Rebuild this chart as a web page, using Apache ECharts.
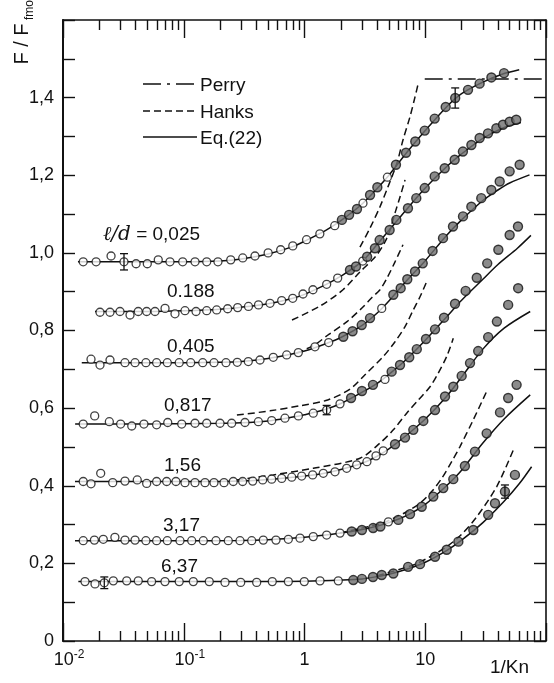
<!DOCTYPE html>
<html><head><meta charset="utf-8">
<script src="https://cdn.jsdelivr.net/npm/echarts@6/dist/echarts.min.js"></script>
<style>html,body{margin:0;padding:0;background:#fff}#c{width:554px;height:683px}</style>
</head><body><div id="c"></div><script>
// ---------- tick labels ----------
const xMajorTicks = [0.01, 0.1, 1, 10, 100];
const xLabelValues = [0.01, 0.1, 1, 10];
const xMinorMultipliers = [2, 3, 4, 5, 6, 7, 8, 9];
const yTickLabels = ['0', '0,2', '0,4', '0,6', '0,8', '1,0', '1,2', '1,4'];
const curveLabels = ['0,025', '0.188', '0,405', '0,817', '1,56', '3,17', '6,37'];
const legendNames = ['Perry', 'Hanks', 'Eq.(22)'];

// ---------- data: [1/Kn, F/Ffmo] ----------
const c1Open = [[0.0147,0.977],[0.0188,0.977],[0.025,0.992],[0.032,0.977],[0.0403,0.972],[0.0499,0.972],[0.0615,0.982],[0.0769,0.977],[0.098,0.977],[0.124,0.977],[0.155,0.977],[0.192,0.977],[0.245,0.982],[0.308,0.987],[0.389,0.992],[0.50,1.000],[0.635,1.008],[0.80,1.018],[1.04,1.034],[1.34,1.049],[1.78,1.070],[3.05,1.128],[4.86,1.195]];
const c1Filled = [[2.04,1.085],[2.34,1.098],[2.72,1.113],[3.49,1.149],[4.01,1.169],[5.72,1.227],[6.93,1.258],[8.27,1.287],[9.9,1.315],[11.97,1.346],[14.77,1.376],[17.7,1.399],[22.6,1.420],[28.2,1.436],[35.3,1.452],[44.9,1.463]];
const c1Line = [[0.0133,0.977],[0.05,0.977],[0.1,0.977],[0.2,0.979],[0.3,0.984],[0.5,0.997],[0.8,1.016],[1.0,1.03],[1.5,1.058],[2,1.083],[3,1.126],[4,1.166],[5,1.2],[7,1.258],[10,1.315],[15,1.376],[20,1.41],[30,1.44],[45,1.462],[60,1.472]];
const c1Hanks = [[2.88,1.015],[3.49,1.064],[4.22,1.119],[4.91,1.170],[5.84,1.232],[6.54,1.291],[7.48,1.351],[8.23,1.402],[8.77,1.438]];

const c2Open = [[0.02025,0.847],[0.0245,0.847],[0.02965,0.849],[0.0359,0.840],[0.042,0.849],[0.0493,0.849],[0.0578,0.849],[0.070,0.857],[0.0846,0.843],[0.1024,0.851],[0.1264,0.849],[0.1549,0.851],[0.1874,0.853],[0.231,0.856],[0.2796,0.859],[0.3436,0.862],[0.416,0.866],[0.518,0.870],[0.6475,0.877],[0.799,0.883],[0.972,0.894],[1.175,0.905],[1.526,0.919],[1.883,0.935],[3.036,0.979]];
const c2Filled = [[2.38,0.956],[2.67,0.965],[3.30,0.990],[3.83,1.012],[4.19,1.033],[5.07,1.059],[5.76,1.085],[7.19,1.115],[8.43,1.141],[9.9,1.167],[11.97,1.197],[14.49,1.218],[17.53,1.240],[20.5,1.261],[24.1,1.278],[28.2,1.296],[33.07,1.308],[38.8,1.321],[44.04,1.33],[50.0,1.338],[56.7,1.343]];
const c2Line = [[0.0184,0.849],[0.05,0.849],[0.1,0.851],[0.2,0.855],[0.3,0.86],[0.5,0.869],[0.8,0.883],[1.0,0.893],[1.5,0.918],[2,0.94],[3,0.978],[4,1.022],[5,1.058],[7,1.112],[10,1.167],[15,1.222],[20,1.255],[30,1.295],[45,1.323],[62,1.336]];
const c2Hanks = [[0.788,0.827],[1.344,0.863],[2.084,0.905],[2.882,0.951],[3.908,0.992],[4.64,1.028],[5.107,1.059],[5.62,1.103],[6.18,1.144],[6.8,1.188]];

const c3Open = [[0.01706,0.726],[0.02025,0.711],[0.0245,0.724],[0.0326,0.717],[0.0395,0.717],[0.0486,0.717],[0.0596,0.717],[0.0731,0.717],[0.0917,0.717],[0.1142,0.717],[0.1436,0.717],[0.178,0.717],[0.2238,0.717],[0.2775,0.718],[0.3424,0.720],[0.428,0.724],[0.5515,0.731],[0.712,0.737],[0.889,0.743],[1.221,0.758],[1.586,0.769],[4.36,0.857]];
const c3Filled = [[2.096,0.784],[2.5,0.798],[2.977,0.814],[3.487,0.832],[5.44,0.892],[6.26,0.909],[7.10,0.932],[8.23,0.952],[9.53,0.973],[11.5,1.005],[14.03,1.038],[16.97,1.068],[20.54,1.094],[24.08,1.119],[29.1,1.141],[35.27,1.162],[41.36,1.184],[50.0,1.21],[60.5,1.227]];
const c3Line = [[0.0143,0.717],[0.05,0.717],[0.1,0.717],[0.2,0.718],[0.3,0.72],[0.5,0.728],[0.8,0.74],[1.0,0.747],[1.5,0.766],[2,0.782],[3,0.813],[4,0.845],[5,0.876],[7,0.928],[10,0.98],[15,1.045],[20,1.085],[30,1.135],[40,1.162],[50,1.18],[73,1.201]];
const c3Hanks = [[0.86,0.742],[1.2,0.762],[1.59,0.79],[2.25,0.823],[2.99,0.858],[3.62,0.885],[4.22,0.905],[4.82,0.935],[5.62,0.977],[6.54,1.021]];

const c4Open = [[0.0147,0.559],[0.0183,0.580],[0.0242,0.565],[0.030,0.559],[0.0371,0.554],[0.0468,0.559],[0.0596,0.557],[0.0737,0.563],[0.0962,0.559],[0.1239,0.561],[0.1549,0.561],[0.1997,0.561],[0.2494,0.561],[0.3214,0.563],[0.415,0.565],[0.535,0.568],[0.689,0.574],[0.890,0.580],[1.182,0.587],[1.526,0.595],[1.968,0.611],[4.64,0.674]];
const c4Filled = [[2.43,0.626],[2.99,0.644],[3.69,0.66],[5.27,0.694],[6.18,0.711],[7.37,0.731],[8.51,0.752],[10.14,0.778],[12.05,0.803],[14.3,0.833],[17.64,0.869],[21.6,0.902],[26.7,0.936],[32.6,0.973],[40.3,1.008],[50.0,1.046],[58.6,1.068]];
const c4Line = [[0.0126,0.559],[0.05,0.559],[0.1,0.56],[0.2,0.561],[0.3,0.562],[0.5,0.567],[0.8,0.577],[1.0,0.583],[1.5,0.597],[2,0.612],[3,0.641],[4,0.664],[5,0.687],[7,0.726],[10,0.775],[15,0.835],[20,0.878],[30,0.932],[40,0.97],[58,1.012],[75,1.045]];
const c4Hanks = [[0.2756,0.582],[0.518,0.593],[0.918,0.606],[1.556,0.621],[2.382,0.649],[3.17,0.686],[4.49,0.733],[5.62,0.771],[6.8,0.81],[7.96,0.853],[9.05,0.887],[10.28,0.926]];

const c5Open = [[0.01471,0.411],[0.01706,0.405],[0.02052,0.432],[0.0258,0.408],[0.0326,0.412],[0.0412,0.415],[0.0493,0.406],[0.0596,0.411],[0.0722,0.411],[0.0862,0.411],[0.1024,0.408],[0.1239,0.408],[0.15,0.408],[0.178,0.408],[0.2155,0.408],[0.2571,0.411],[0.3074,0.411],[0.3724,0.412],[0.4506,0.415],[0.535,0.417],[0.6475,0.419],[0.784,0.422],[0.948,0.425],[1.168,0.428],[1.431,0.432],[1.789,0.436],[2.235,0.445],[2.705,0.454],[3.288,0.462],[3.91,0.477],[4.49,0.490]];
const c5Filled = [[5.62,0.507],[6.8,0.524],[7.96,0.544],[9.64,0.567],[12.05,0.595],[14.58,0.630],[17.07,0.655],[20.03,0.683],[23.48,0.716],[27.44,0.747],[33.2,0.783],[39.2,0.823],[48.6,0.866],[58.8,0.909]];
const c5Line = [[0.01257,0.411],[0.05,0.411],[0.1,0.411],[0.2,0.411],[0.3,0.412],[0.5,0.416],[0.8,0.422],[1,0.425],[1.5,0.433],[2,0.442],[3,0.458],[4,0.476],[5,0.495],[7,0.53],[10,0.572],[15,0.63],[20,0.68],[30,0.752],[45,0.806],[74,0.849]];
const c5Hanks = [[0.2743,0.415],[0.551,0.428],[1.182,0.445],[2.88,0.471],[4.22,0.51],[5.44,0.544],[7.02,0.587],[8.77,0.621],[10.95,0.655],[12.8,0.69],[15.05,0.733],[17.07,0.78]];

const c6Open = [[0.01471,0.2585],[0.0182,0.26],[0.02156,0.262],[0.0269,0.267],[0.0326,0.26],[0.0395,0.26],[0.0486,0.2585],[0.0596,0.2585],[0.0731,0.2585],[0.0931,0.2585],[0.1164,0.2585],[0.1452,0.2585],[0.1849,0.2585],[0.2338,0.2585],[0.2923,0.2585],[0.3654,0.2585],[0.4557,0.26],[0.5805,0.26],[0.7348,0.262],[0.918,0.265],[1.182,0.269],[1.526,0.273],[1.968,0.278],[4.95,0.307]];
const c6Filled = [[2.46,0.282],[2.99,0.286],[3.7,0.291],[4.25,0.295],[5.98,0.312],[7.48,0.327],[9.35,0.346],[11.66,0.372],[14.1,0.394],[17.07,0.417],[21.3,0.451],[25.8,0.488],[32.25,0.535],[41.6,0.589],[48.6,0.626],[57.1,0.660]];
const c6Line = [[0.01257,0.2585],[0.1,0.2585],[0.3,0.259],[0.5,0.261],[1,0.267],[2,0.278],[3,0.287],[4,0.296],[5,0.305],[7,0.323],[10,0.352],[15,0.4],[20,0.44],[30,0.51],[45,0.572],[74,0.634]];
const c6Hanks = [[1.968,0.278],[2.88,0.29],[4.36,0.303],[5.44,0.316],[7.02,0.333],[9.05,0.355],[11.3,0.385],[13.68,0.419],[16.55,0.462],[19.4,0.501],[25.0,0.570],[32.25,0.643]];

const c7Open = [[0.01521,0.153],[0.01841,0.147],[0.02198,0.150],[0.0261,0.155],[0.0337,0.155],[0.042,0.155],[0.0542,0.153],[0.0699,0.153],[0.0917,0.153],[0.12,0.153],[0.1627,0.153],[0.2196,0.151],[0.2962,0.151],[0.4018,0.151],[0.541,0.153],[0.7348,0.153],[0.996,0.153],[1.344,0.155],[1.905,0.155]];
const c7Filled = [[2.536,0.157],[2.99,0.16],[3.69,0.165],[4.36,0.170],[5.44,0.174],[7.21,0.191],[9.05,0.198],[12.05,0.217],[15.05,0.235],[18.8,0.256],[25.0,0.286],[33.2,0.325],[37.8,0.355],[45.7,0.385],[55.3,0.428]];
const c7Line = [[0.0134,0.153],[0.1,0.153],[0.5,0.153],[1,0.154],[2,0.157],[3,0.16],[4,0.166],[5,0.172],[7,0.185],[10,0.203],[15,0.233],[20,0.26],[30,0.305],[45,0.36],[60,0.405],[76,0.449]];
const c7Hanks = [[4.0,0.168],[7.96,0.196],[10.95,0.217],[15.05,0.243],[20,0.275],[26.7,0.32],[39.1,0.398],[53.6,0.492]];

const perryLine = [[9.9,1.448],[100,1.448]];
// [1/Kn, F, half-height of error bar]
const errorBars = [[0.032,0.977,0.021],[17.7,1.399,0.026],[1.526,0.595,0.012],[0.02198,0.150,0.015],[45.7,0.385,0.017]];

const curves = [
  {open:c1Open, filled:c1Filled, line:c1Line, hanks:c1Hanks},
  {open:c2Open, filled:c2Filled, line:c2Line, hanks:c2Hanks},
  {open:c3Open, filled:c3Filled, line:c3Line, hanks:c3Hanks},
  {open:c4Open, filled:c4Filled, line:c4Line, hanks:c4Hanks},
  {open:c5Open, filled:c5Filled, line:c5Line, hanks:c5Hanks},
  {open:c6Open, filled:c6Filled, line:c6Line, hanks:c6Hanks},
  {open:c7Open, filled:c7Filled, line:c7Line, hanks:c7Hanks}
];

// ---------- layout / style ----------
const FONT = '"Liberation Sans", Arial, sans-serif';
const INK = '#111';
const HANKS_DASH = [7, 4];
const PERRY_DASH = [18, 6, 3, 6];
const labelPos = [[103,235],[167,292],[167,347],[164,406],[164,466],[163,526],[161,567]];

const xMinorTicks = [];
xMajorTicks.slice(0, -1).forEach(d => xMinorMultipliers.forEach(m => xMinorTicks.push(+(d * m).toPrecision(6))));

const chart = echarts.init(document.getElementById('c'), null, {renderer: 'canvas'});

const series = [];
curves.forEach(c => {
  series.push({type:'line', data:c.line, showSymbol:false, smooth:0.3, silent:true, z:2,
    lineStyle:{color:INK, width:1.5}});
  series.push({type:'line', data:c.hanks, showSymbol:false, smooth:0.3, silent:true, z:2,
    lineStyle:{color:INK, width:1.5, type:HANKS_DASH}});
  series.push({type:'scatter', data:c.open, symbol:'circle', symbolSize:8, silent:true, z:4,
    itemStyle:{color:'#ffffff', borderColor:INK, borderWidth:1.3}});
  series.push({type:'scatter', data:c.filled, symbol:'circle', symbolSize:9, silent:true, z:4,
    itemStyle:{color:'#6e6e6e', borderColor:INK, borderWidth:1.4}});
});
series.push({type:'line', data:perryLine, showSymbol:false, silent:true, z:2,
  lineStyle:{color:INK, width:1.5, type:PERRY_DASH}});
series.push({type:'custom', data:errorBars, silent:true, z:5,
  renderItem(params, api) {
    const x = api.value(0), y = api.value(1), e = api.value(2);
    const p1 = api.coord([x, y + e]), p2 = api.coord([x, y - e]);
    const w = 4, st = {stroke:INK, lineWidth:1.3};
    return {type:'group', children:[
      {type:'line', shape:{x1:p1[0], y1:p1[1], x2:p2[0], y2:p2[1]}, style:st},
      {type:'line', shape:{x1:p1[0]-w, y1:p1[1], x2:p1[0]+w, y2:p1[1]}, style:st},
      {type:'line', shape:{x1:p2[0]-w, y1:p2[1], x2:p2[0]+w, y2:p2[1]}, style:st}
    ]};
  }});

function xLabel(v) {
  const e = Math.round(Math.log10(v));
  if (e === 0) return '{b|1}';
  if (e === 1) return '{b|10}';
  return '{bp|10}{s|' + e + '}';
}
const xRich = {
  b:{fontSize:18, lineHeight:22, fontFamily:FONT, color:INK},
  bp:{fontSize:18, lineHeight:22, fontFamily:FONT, color:INK, padding:[0,0,0,12]},
  s:{fontSize:12, lineHeight:12, verticalAlign:'top', fontFamily:FONT, color:INK}
};
function xAxisDef(pos, ticks, len, showLine, showLabel) {
  return {type:'log', logBase:10, min:0.01, max:100, position:pos, gridIndex:0,
    axisLine:{show:showLine, lineStyle:{color:INK, width:1.6}},
    axisTick:{show:true, inside:true, length:len, customValues:ticks, lineStyle:{color:INK, width:1.4}},
    axisLabel:{show:showLabel, customValues:xLabelValues, margin:8, formatter:xLabel, rich:xRich},
    splitLine:{show:false}, minorTick:{show:false}};
}
function yLabel(v) {
  const k = Math.round(v * 10);
  if (k % 2 || k > 14) return '';
  return yTickLabels[k / 2];
}
function yAxisDef(pos, showLabel, w) {
  return {type:'value', min:0, max:1.6, interval:0.1, position:pos,
    axisLine:{show:true, lineStyle:{color:INK, width:w}},
    axisTick:{show:true, inside:true, length:12, lineStyle:{color:INK, width:1.4}},
    axisLabel:{show:showLabel, formatter:yLabel, margin:9, fontSize:18, fontFamily:FONT, color:INK},
    splitLine:{show:false}};
}

const graphics = [];
// legend
const legY = [84, 111, 137];
const legDash = [PERRY_DASH, HANKS_DASH, null];
legendNames.forEach((n, i) => {
  graphics.push({type:'line', shape:{x1:143, y1:legY[i], x2:197, y2:legY[i]},
    style:{stroke:INK, lineWidth:1.5, lineDash:legDash[i]}});
  graphics.push({type:'text', x:200, y:legY[i] + 2,
    style:{text:n, font:'19px ' + FONT, fill:INK, textAlign:'left', textVerticalAlign:'middle'}});
});
// curve labels
curveLabels.forEach((t, i) => {
  const txt = i === 0 ? '{it|ℓ/d}{n| = ' + t + '}' : '{n|' + t + '}';
  graphics.push({type:'text', x:labelPos[i][0], y:labelPos[i][1],
    style:{text:txt, textAlign:'left', textVerticalAlign:'middle', fill:INK,
      rich:{it:{fontSize:20, fontStyle:'italic', fontFamily:'"DejaVu Serif", serif', fill:INK},
            n:{fontSize:19, fontFamily:FONT, fill:INK}}}});
});
// axis titles
graphics.push({type:'text', x:22, y:44, rotation:Math.PI/2,
  style:{text:'F / F', font:'20px ' + FONT, fill:INK, textAlign:'center', textVerticalAlign:'middle'}});
graphics.push({type:'text', x:30, y:10, rotation:Math.PI/2,
  style:{text:'fmo', font:'12px ' + FONT, fill:INK, textAlign:'center', textVerticalAlign:'middle'}});
graphics.push({type:'text', x:490, y:668,
  style:{text:'1/Kn', font:'19px ' + FONT, fill:INK, textAlign:'left', textVerticalAlign:'middle'}});

chart.setOption({
  animation:false,
  backgroundColor:'#ffffff',
  grid:{left:63, right:8, top:20, bottom:42, containLabel:false},
  xAxis:[
    xAxisDef('bottom', xMajorTicks, 18, true, true),
    xAxisDef('bottom', xMinorTicks, 10, false, false),
    xAxisDef('top', xMajorTicks, 18, true, false),
    xAxisDef('top', xMinorTicks, 10, false, false)
  ],
  yAxis:[yAxisDef('left', true, 2), yAxisDef('right', false, 1.6)],
  series:series,
  graphic:graphics
});
</script></body></html>
